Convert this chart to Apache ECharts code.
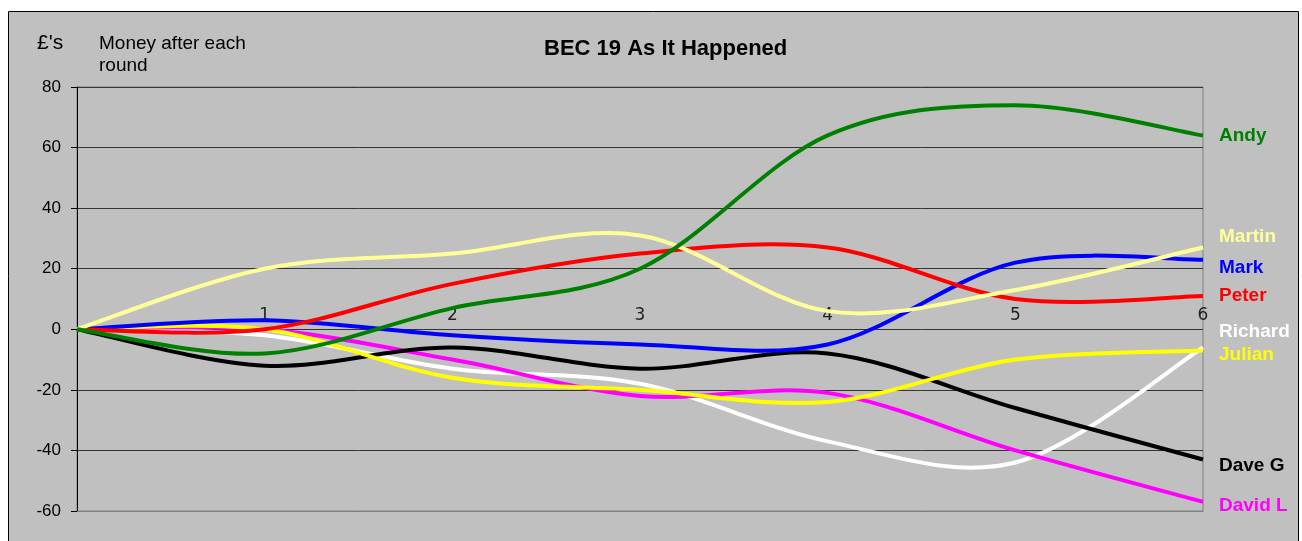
<!DOCTYPE html>
<html>
<head>
<meta charset="utf-8">
<script src="https://cdn.jsdelivr.net/npm/echarts@6/dist/echarts.min.js"></script>
<style>
html, body { margin: 0; padding: 0; background: #fff; }
#main { width: 1302px; height: 541px; }
</style>
</head>
<body>
<div id="main"></div>
<script>
// rounds (0 = start)
var rounds = ['0', '1', '2', '3', '4', '5', '6'];

var andy    = [0, -8, 7, 20, 64, 74, 64];
var martin  = [0, 20, 25, 31, 6, 13, 27];
var mark    = [0, 3, -2, -5, -5, 22, 23];
var peter   = [0, 0, 15, 25, 27, 10, 11];
var richard = [0, -2, -13, -18, -37, -44, -6];
var julian  = [0, 0, -16, -20, -24, -10, -7];
var daveG   = [0, -12, -6, -13, -8, -26, -43];
var davidL  = [0, 0, -10, -22, -21, -40, -57];

var yTicks = [80, 60, 40, 20, 0, -20, -40, -60];

var myChart = echarts.init(document.getElementById('main'));

// excel style smoothing (catmull-rom, no clamping like echarts does)
function smoothPath(pts) {
    var d = 'M' + pts[0][0] + ' ' + pts[0][1];
    for (var i = 0; i < pts.length - 1; i++) {
        var p0 = pts[i - 1] || pts[i];
        var p1 = pts[i];
        var p2 = pts[i + 1];
        var p3 = pts[i + 2] || pts[i + 1];
        var c1x = p1[0] + (p2[0] - p0[0]) / 6, c1y = p1[1] + (p2[1] - p0[1]) / 6;
        var c2x = p2[0] - (p3[0] - p1[0]) / 6, c2y = p2[1] - (p3[1] - p1[1]) / 6;
        d += ' C' + c1x + ' ' + c1y + ' ' + c2x + ' ' + c2y + ' ' + p2[0] + ' ' + p2[1];
    }
    return d;
}

function player(name, values, color, dy, z) {
    return {
        name: name,
        type: 'custom',
        z: z,
        data: values.map(function (v, i) { return [i, v]; }),
        encode: {x: 0, y: 1},
        renderItem: function (params, api) {
            if (params.dataIndex !== 0) return null;
            var pts = values.map(function (v, i) { return api.coord([i, v]); });
            var last = pts[pts.length - 1];
            return {
                type: 'group',
                children: [{
                    type: 'path',
                    shape: {pathData: smoothPath(pts)},
                    style: {stroke: color, lineWidth: 4, fill: null, lineJoin: 'round'}
                }, {
                    type: 'text',
                    x: last[0] + 16,
                    y: last[1] + dy,
                    style: {
                        text: name, fill: color,
                        fontFamily: 'Liberation Sans', fontWeight: 'bold', fontSize: 19,
                        align: 'left', verticalAlign: 'middle'
                    }
                }]
            };
        }
    };
}

var option = {
    backgroundColor: '#fff',
    animation: false,
    graphic: [{
        type: 'rect',
        z: -10,
        shape: {x: 8.5, y: 11.5, width: 1290, height: 540},
        style: {fill: '#c0c0c0', stroke: '#000', lineWidth: 1}
    }],
    title: [{
        text: 'BEC 19 As It Happened',
        left: 544, top: 38, padding: 0,
        textStyle: {fontFamily: 'Liberation Sans', fontWeight: 'bold', fontSize: 22, color: '#000'}
    }, {
        text: '£\'s',
        left: 37, top: 33, padding: 0,
        textStyle: {fontFamily: 'Liberation Sans', fontWeight: 'normal', fontSize: 21, color: '#000'}
    }, {
        text: 'Money after each\nround',
        left: 99, top: 33, padding: 0,
        textStyle: {fontFamily: 'Liberation Sans', fontWeight: 'normal', fontSize: 19, lineHeight: 22, color: '#000'}
    }],
    grid: {
        left: 77, right: 99, top: 87, bottom: 30,
        show: true, borderColor: '#808080', borderWidth: 1
    },
    xAxis: {
        type: 'category',
        data: rounds,
        boundaryGap: false,
        axisLine: {onZero: false, lineStyle: {color: '#808080', width: 1}},
        axisTick: {show: false},
        axisLabel: {
            inside: true, margin: 187, interval: 0,
            fontFamily: 'DejaVu Sans', fontSize: 17, color: '#222',
            formatter: function (v) { return v === '0' ? '' : v; }
        },
        splitLine: {show: false}
    },
    yAxis: {
        type: 'value',
        min: yTicks[yTicks.length - 1], max: yTicks[0], interval: 20,
        axisLine: {show: true, lineStyle: {color: '#000', width: 1}},
        axisTick: {show: true, length: 6, lineStyle: {color: '#000'}},
        axisLabel: {margin: 16, fontFamily: 'Liberation Sans', fontSize: 17, color: '#000'},
        splitLine: {lineStyle: {color: '#333', width: 1}}
    },
    series: [
        player('Richard', richard, '#ffffff', -16, 2),
        player('David L', davidL, '#ff00ff', 4, 3),
        player('Dave G', daveG, '#000000', 6, 4),
        player('Julian', julian, '#ffff00', 4, 5),
        player('Mark', mark, '#0000ff', 8, 6),
        player('Peter', peter, '#ff0000', 0, 7),
        player('Martin', martin, '#ffff99', -11, 8),
        player('Andy', andy, '#008000', 0, 9)
    ]
};

myChart.setOption(option);
</script>
</body>
</html>
